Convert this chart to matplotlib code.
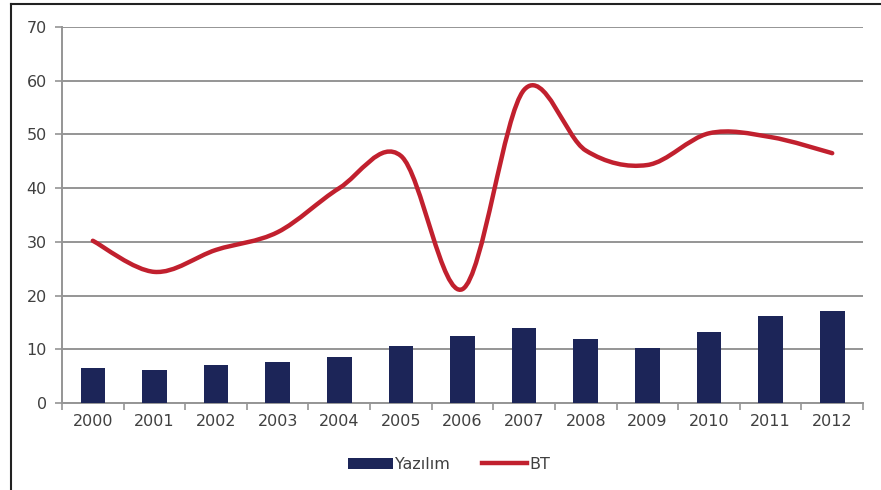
import numpy as np
import matplotlib
matplotlib.use("Agg")
import matplotlib.pyplot as plt
from matplotlib.path import Path
from matplotlib.patches import PathPatch
from matplotlib.lines import Line2D

# DATA

years = ['2000', '2001', '2002', '2003', '2004', '2005', '2006',
         '2007', '2008', '2009', '2010', '2011', '2012']
yazilim = [6.5, 6.1, 7.0, 7.7, 8.6, 10.6, 12.5, 13.9, 11.9, 10.3, 13.3, 16.1, 17.2]
bt = [30.2, 24.4, 28.5, 31.8, 40.0, 46.0, 21.2, 58.3, 47.0, 44.3, 50.2, 49.5, 46.5]

bar_color = '#1c2558'
line_color = '#c1202e'
text_color = '#404040'
grid_color = '#959595'


def smooth_path(xs, ys):
    """Excel-style smoothed line as cubic Bezier segments through the points"""
    verts = [(xs[0], ys[0])]
    codes = [Path.MOVETO]
    n = len(xs)
    for i in range(n - 1):
        x0, y0 = (xs[i - 1], ys[i - 1]) if i > 0 else (xs[i], ys[i])
        x1, y1 = xs[i], ys[i]
        x2, y2 = xs[i + 1], ys[i + 1]
        x3, y3 = (xs[i + 2], ys[i + 2]) if i + 2 < n else (x2, y2)
        c1 = (x1 + (x2 - x0) / 6, y1 + (y2 - y0) / 6)
        c2 = (x2 - (x3 - x1) / 6, y2 - (y3 - y1) / 6)
        verts += [c1, c2, (x2, y2)]
        codes += [Path.CURVE4] * 3
    return Path(verts, codes)


# PLOT

fig = plt.figure(figsize=(8.81, 4.9), dpi=100)
ax = fig.add_axes([0.0704, 0.1776, 0.9092, 0.7674])

x = np.arange(len(years))
bars = ax.bar(x, yazilim, width=0.4, color=bar_color, label='Yazılım', zorder=3)

patch = PathPatch(smooth_path(x, bt), facecolor='none', edgecolor=line_color,
                  lw=3.2, capstyle='round', joinstyle='round', zorder=4)
ax.add_patch(patch)
bt_handle = Line2D([], [], color=line_color, lw=3.2, label='BT')

ax.set_xlim(-0.5, len(years) - 0.5)
ax.set_ylim(0, 70)
ax.set_yticks(np.arange(0, 71, 10))
ax.set_xticks(x)
ax.set_xticklabels(years)
ax.set_xticks(np.arange(-0.5, len(years), 1), minor=True)

ax.grid(axis='y', color=grid_color, lw=1.4, zorder=0)
ax.set_axisbelow(True)
for s in ['top', 'right']:
    ax.spines[s].set_visible(False)
for s in ['left', 'bottom']:
    ax.spines[s].set_color(grid_color)
    ax.spines[s].set_linewidth(1.4)

ax.tick_params(axis='x', which='major', length=0, pad=8,
               labelsize=11.5, labelcolor=text_color)
ax.tick_params(axis='x', which='minor', length=5, width=1.2, color=grid_color,
               direction='out')
ax.tick_params(axis='y', length=5, width=1.2, color=grid_color, pad=6,
               labelsize=11.5, labelcolor=text_color)

leg = fig.legend(handles=[bars, bt_handle], loc='center',
                 bbox_to_anchor=(0.51, 0.052), ncol=2,
                 frameon=False, fontsize=11.5, handlelength=2.8,
                 handletextpad=0.15, columnspacing=2.0)
for t in leg.get_texts():
    t.set_color(text_color)

# chart frame (left and top only)
fig.add_artist(Line2D([0.0125, 0.0125], [0, 0.992], transform=fig.transFigure,
                      color='#222222', lw=1.5))
fig.add_artist(Line2D([0.0125, 1.0], [0.992, 0.992], transform=fig.transFigure,
                      color='#222222', lw=1.5))

fig.savefig('out.png', dpi=100)
